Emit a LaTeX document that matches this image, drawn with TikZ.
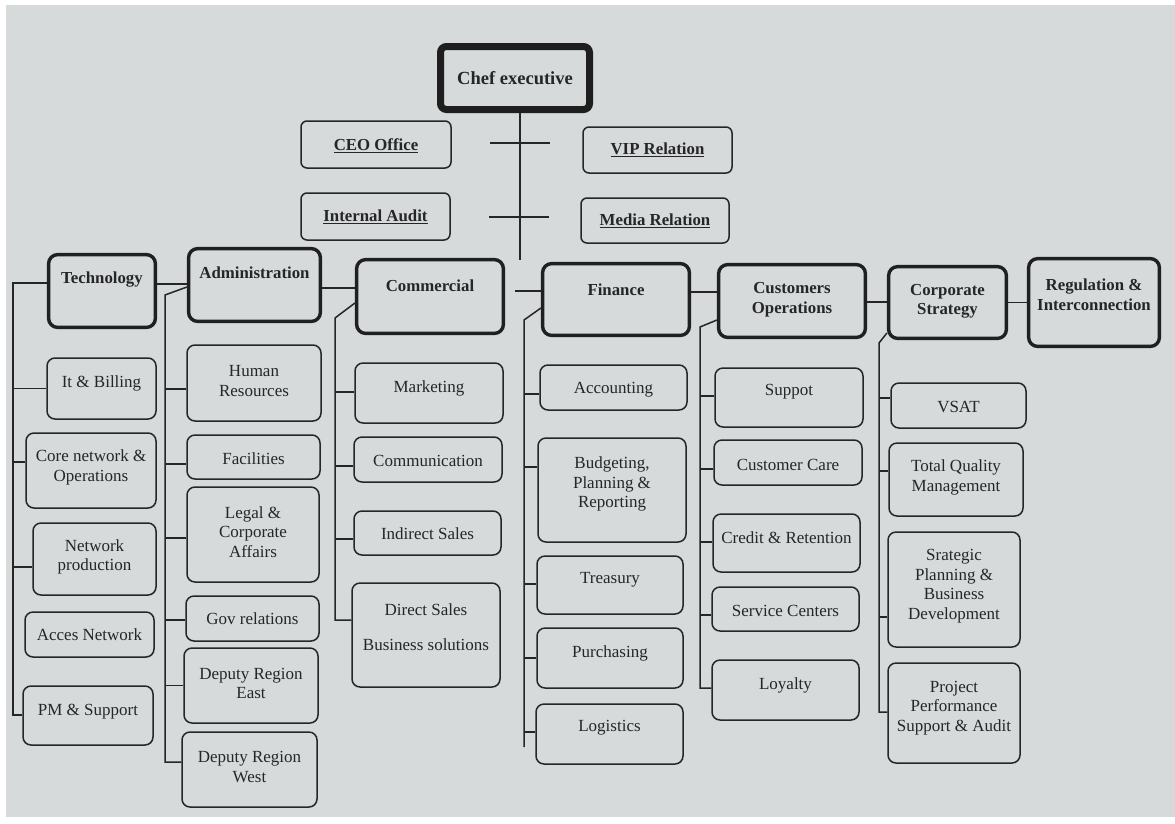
\documentclass[tikz,border=0pt]{standalone}
\usepackage{fontspec}
\setmainfont{Liberation Serif}
\definecolor{bg}{RGB}{214,218,218}
\definecolor{ink}{RGB}{38,38,38}
\tikzset{
  cbox/.style={draw=ink, line width=1.5pt, rounded corners=8pt, inner sep=0pt},
  tbox/.style={draw=ink, line width=1.5pt, rounded corners=6pt, inner sep=0pt},
  hbox/.style={draw=ink!85!black, line width=3.4pt, rounded corners=9pt, inner sep=0pt},
  chefbox/.style={draw=ink!80!black, line width=7pt, rounded corners=6pt, inner sep=0pt},
  ctxt/.style={text=ink, align=center, inner sep=0pt, font=\fontsize{17}{19.5}\selectfont},
  htxt/.style={text=ink, align=center, inner sep=0pt, font=\fontsize{16.8}{19.5}\selectfont\bfseries},
  cheftxt/.style={text=ink, align=center, inner sep=0pt, font=\fontsize{18.5}{21}\selectfont\bfseries},
  ln/.style={draw=ink, line width=1.5pt},
}
% name, box style, text style, x1, y1, x2, y2, text yshift, text
\newcommand{\bx}[9]{%
  \node[#2, minimum width={#6-#4}, minimum height={#7-#5}] (#1) at ({(#4+#6)/2},{(#5+#7)/2}) {};%
  \node[#3] (#1t) at ([yshift=#8pt]#1.center) {#9};}
\begin{document}
\begin{tikzpicture}[x=1pt, y=-1pt]
\useasboundingbox (0,0) rectangle (1175,823);
\fill[white] (0,0) rectangle (1175,823);
\fill[bg] (6,5) rectangle (1175,817);

% top level
\bx{chef}{chefbox}{cheftxt}{440.5}{46.5}{589.5}{109.5}{0}{Chef executive}
\bx{ceo}{tbox}{htxt}{301}{121}{451}{168}{-1}{\underline{CEO Office}}
\bx{vip}{tbox}{htxt}{583}{127}{732}{173}{0}{\underline{VIP Relation}}
\bx{ia}{tbox}{htxt}{301}{193}{450}{240}{0}{\underline{Internal Audit}}
\bx{media}{tbox}{htxt}{581}{198}{729}{243}{0}{\underline{Media Relation}}

% heads
\bx{tech}{hbox}{htxt}{48.6}{254.6}{155.4}{327.4}{11}{Technology}
\bx{adm}{hbox}{htxt}{188.6}{248.6}{320.4}{321.4}{12}{Administration}
\bx{com}{hbox}{htxt}{356.6}{259.6}{503.4}{333.4}{11}{Commercial}
\bx{fin}{hbox}{htxt}{542.6}{263.6}{689.4}{335.4}{10}{Finance}
\bx{cust}{hbox}{htxt}{718.6}{264.6}{865.4}{337.4}{1.5}{Customers\\Operations}
\bx{corp}{hbox}{htxt}{888.6}{266.6}{1006.4}{338.4}{1}{Corporate\\Strategy}
\bx{reg}{hbox}{htxt}{1028.6}{258.6}{1159.4}{346.4}{8}{Regulation \&\\Interconnection}

% technology children
\bx{itb}{cbox}{ctxt}{47}{358}{156}{419}{5}{It \& Billing}
\bx{core}{cbox}{ctxt}{26}{433}{156}{508}{3}{Core network \&\\Operations}
\bx{netp}{cbox}{ctxt}{33}{523}{156}{595}{2}{Network\\production}
\bx{acn}{cbox}{ctxt}{25}{612}{154}{657}{0}{Acces Network}
\bx{pm}{cbox}{ctxt}{23}{686}{153}{745}{3.5}{PM \& Support}

% administration children
\bx{hr}{cbox}{ctxt}{187}{345}{321}{421}{2}{Human\\Resources}
\bx{fac}{cbox}{ctxt}{187}{435}{320}{479}{-2}{Facilities}
\bx{leg}{cbox}{ctxt}{187}{487}{319}{582}{2.5}{Legal \&\\Corporate\\Affairs}
\bx{gov}{cbox}{ctxt}{186}{596}{319}{641}{0}{Gov relations}
\bx{de}{cbox}{ctxt}{184}{648}{318}{723}{2}{Deputy Region\\East}
\bx{dw}{cbox}{ctxt}{182}{732}{317}{807}{2.5}{Deputy Region\\West}

% commercial children
\bx{mkt}{cbox}{ctxt}{355}{363}{503}{423}{5}{Marketing}
\bx{comm}{cbox}{ctxt}{354}{437}{502}{482}{-1.5}{Communication}
\bx{ind}{cbox}{ctxt}{354}{511}{501}{555}{-1}{Indirect Sales}
\bx{ds}{cbox}{ctxt}{352}{583}{500}{687}{8}{Direct Sales\\[16pt]Business solutions}

% finance children
\bx{acct}{cbox}{ctxt}{540}{365}{687}{410}{-2.5}{Accounting}
\bx{bud}{cbox}{ctxt}{538}{438}{686}{542}{6}{Budgeting,\\Planning \&\\Reporting}
\bx{tre}{cbox}{ctxt}{537}{556}{683}{614}{5}{Treasury}
\bx{pur}{cbox}{ctxt}{537}{628}{683}{688}{5}{Purchasing}
\bx{logi}{cbox}{ctxt}{536}{704}{683}{764}{6}{Logistics}

% customers operations children
\bx{sup}{cbox}{ctxt}{715}{368}{863}{427}{5.5}{Suppot}
\bx{cc}{cbox}{ctxt}{714}{440}{862}{485}{-2.5}{Customer Care}
\bx{cr}{cbox}{ctxt}{713}{514}{860}{572}{5}{Credit \& Retention}
\bx{sc}{cbox}{ctxt}{712}{587}{859}{631}{-2}{Service Centers}
\bx{loy}{cbox}{ctxt}{712}{660}{859}{720}{5}{Loyalty}

% corporate strategy children
\bx{vsat}{cbox}{ctxt}{891}{383}{1026}{428}{-1.5}{VSAT}
\bx{tqm}{cbox}{ctxt}{889}{443}{1023}{516}{2}{Total Quality\\Management}
\bx{strat}{cbox}{ctxt}{888}{532}{1020}{647}{3.5}{Srategic\\Planning \&\\Business\\Development}
\bx{proj}{cbox}{ctxt}{888}{663}{1020}{763}{5}{Project\\Performance\\Support \& Audit}

% chief executive trunk and stubs
\coordinate (chefbot) at (520,260);
\draw[ln] (chef.south -| chefbot) -- (chefbot);
\coordinate (s1a) at (490,143); \coordinate (s1b) at (550,143);
\coordinate (s2a) at (489,217); \coordinate (s2b) at (549,217);
\draw[ln] (s1a) -- (s1b);
\draw[ln] (s2a) -- (s2b);

% links between heads
\draw[ln] ([yshift=7pt]tech.east) -- ([yshift=7pt]tech.east -| adm.west);
\draw[ln] ([yshift=-3pt]adm.east) -- ([yshift=-3pt]adm.east -| com.west);
\draw[ln] ([xshift=10pt,yshift=5.5pt]com.east) -- ([yshift=5.5pt]com.east -| fin.west);
\draw[ln] ([yshift=7.5pt]fin.east) -- ([yshift=7.5pt]fin.east -| cust.west);
\draw[ln] ([yshift=-1pt]cust.east) -- ([yshift=-1pt]cust.east -| corp.west);
\draw[ln] (corp.east) -- (corp.east -| reg.west);

% technology tree
\coordinate (tT) at (13,283); \coordinate (tB) at (13,715);
\draw[ln] ([yshift=8pt]tech.west) -- (tT) -- (tB) -- (tB -| pm.west);
\draw[ln] (itb.west) -- (itb.west -| tT);
\draw[ln] ([yshift=8.5pt]core.west) -- ([yshift=8.5pt]core.west -| tT);
\draw[ln] ([yshift=-8pt]netp.west) -- ([yshift=-8pt]netp.west -| tT);

% administration tree
\coordinate (aT) at (165,295); \coordinate (aB) at (165,762);
\draw[ln] ([yshift=-2pt]adm.west) -- (aT) -- (aB) -- (aB -| dw.west);
\draw[ln] ([yshift=-6pt]hr.west) -- ([yshift=-6pt]hr.west -| aT);
\draw[ln] ([yshift=-7pt]fac.west) -- ([yshift=-7pt]fac.west -| aT);
\draw[ln] ([yshift=-3.5pt]leg.west) -- ([yshift=-3.5pt]leg.west -| aT);
\draw[ln] ([yshift=-1.5pt]gov.west) -- ([yshift=-1.5pt]gov.west -| aT);
\draw[ln] (de.west) -- (de.west -| aT);

% commercial tree
\coordinate (cT) at (335,318); \coordinate (cB) at (335,620);
\draw[ln] ([yshift=-6.5pt]com.west) -- (cT) -- (cB) -- (cB -| ds.west);
\draw[ln] ([yshift=1pt]mkt.west) -- ([yshift=1pt]mkt.west -| cT);
\draw[ln] ([yshift=-6.5pt]comm.west) -- ([yshift=-6.5pt]comm.west -| cT);
\draw[ln] ([yshift=-6pt]ind.west) -- ([yshift=-6pt]ind.west -| cT);

% finance tree
\coordinate (fT) at (524,320); \coordinate (fB) at (524,747);
\draw[ln] ([yshift=-8.5pt]fin.west) -- (fT) -- (fB);
\draw[ln] ([yshift=-6.5pt]acct.west) -- ([yshift=-6.5pt]acct.west -| fT);
\draw[ln] ([yshift=23pt]bud.west) -- ([yshift=23pt]bud.west -| fT);
\draw[ln] ([yshift=1pt]tre.west) -- ([yshift=1pt]tre.west -| fT);
\draw[ln] (pur.west) -- (pur.west -| fT);
\draw[ln] ([yshift=2pt]logi.west) -- ([yshift=2pt]logi.west -| fT);

% customers operations tree
\coordinate (uT) at (700,327); \coordinate (uB) at (700,688);
\draw[ln] ([yshift=-19pt]cust.west) -- (uT) -- (uB) -- (uB -| loy.west);
\draw[ln] ([yshift=1.5pt]sup.west) -- ([yshift=1.5pt]sup.west -| uT);
\draw[ln] ([yshift=-6.5pt]cc.west) -- ([yshift=-6.5pt]cc.west -| uT);
\draw[ln] ([yshift=1pt]cr.west) -- ([yshift=1pt]cr.west -| uT);
\draw[ln] ([yshift=-6pt]sc.west) -- ([yshift=-6pt]sc.west -| uT);

% corporate strategy tree
\coordinate (pT) at (879,343); \coordinate (pB) at (879,712);
\draw[ln] ([yshift=-30.5pt]corp.west) -- (pT) -- (pB) -- (pB -| proj.west);
\draw[ln] ([yshift=7.5pt]vsat.west) -- ([yshift=7.5pt]vsat.west -| pT);
\draw[ln] ([yshift=8.5pt]tqm.west) -- ([yshift=8.5pt]tqm.west -| pT);
\draw[ln] ([yshift=-27.5pt]strat.west) -- ([yshift=-27.5pt]strat.west -| pT);
\end{tikzpicture}
\end{document}
